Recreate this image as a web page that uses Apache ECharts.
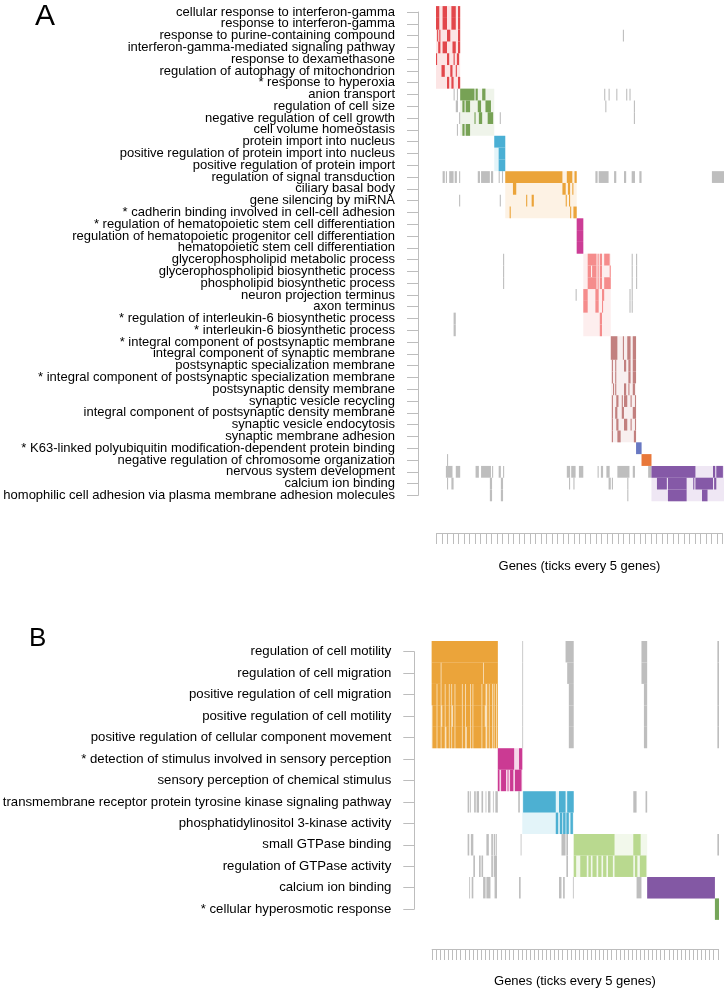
<!DOCTYPE html>
<html><head><meta charset="utf-8">
<script src="https://cdn.jsdelivr.net/npm/echarts@6/dist/echarts.min.js"></script>
<style>html,body{margin:0;padding:0;background:#fff}#c{width:726px;height:990px}</style>
</head><body><div id="c"></div>
<script>
// ================= Panel A data =================
const termsA = [
  "cellular response to interferon-gamma",
  "response to interferon-gamma",
  "response to purine-containing compound",
  "interferon-gamma-mediated signaling pathway",
  "response to dexamethasone",
  "regulation of autophagy of mitochondrion",
  "* response to hyperoxia",
  "anion transport",
  "regulation of cell size",
  "negative regulation of cell growth",
  "cell volume homeostasis",
  "protein import into nucleus",
  "positive regulation of protein import into nucleus",
  "positive regulation of protein import",
  "regulation of signal transduction",
  "ciliary basal body",
  "gene silencing by miRNA",
  "* cadherin binding involved in cell-cell adhesion",
  "* regulation of hematopoietic stem cell differentiation",
  "regulation of hematopoietic progenitor cell differentiation",
  "hematopoietic stem cell differentiation",
  "glycerophospholipid metabolic process",
  "glycerophospholipid biosynthetic process",
  "phospholipid biosynthetic process",
  "neuron projection terminus",
  "axon terminus",
  "* regulation of interleukin-6 biosynthetic process",
  "* interleukin-6 biosynthetic process",
  "* integral component of postsynaptic membrane",
  "integral component of synaptic membrane",
  "postsynaptic specialization membrane",
  "* integral component of postsynaptic specialization membrane",
  "postsynaptic density membrane",
  "synaptic vesicle recycling",
  "integral component of postsynaptic density membrane",
  "synaptic vesicle endocytosis",
  "synaptic membrane adhesion",
  "* K63-linked polyubiquitin modification-dependent protein binding",
  "negative regulation of chromosome organization",
  "nervous system development",
  "calcium ion binding",
  "homophilic cell adhesion via plasma membrane adhesion molecules"
];
const genesA = 262;
// cluster row ranges (first,last) and gene ranges [start,end)
const clusterRowsA = [[0,6],[7,10],[11,13],[14,17],[18,20],[21,27],[28,36],[37,37],[38,38],[39,41]];
const clusterGenesA = [[0,22],[22,53],[53,63],[63,128],[128,134],[134,159],[159,182],[182,187],[187,196],[196,262]];
// genes of each term inside its own cluster, per row
const memberA = [
  [[0,3],[6,10],[14,18],[20,22]],
  [[0,3],[6,10],[14,18],[20,22]],
  [[1,2],[3,4],[10,13],[20,22]],
  [[2,4],[6,10],[15,18],[20,22]],
  [[0,1],[10,12],[16,17],[19,21]],
  [[5,8],[13,15],[18,19]],
  [[10,12],[14,16],[20,22]],
  [[22,35],[36,38],[42,45]],
  [[24,26],[27,31],[38,41],[45,50]],
  [[35,36],[39,42],[47,52]],
  [[24,26],[27,31]],
  [[53,63]],
  [[57,63]],
  [[57,63]],
  [[63,115],[119,124],[126,128]],
  [[70,73],[115,118],[120,122],[124,125]],
  [[82,83],[87,89],[118,119],[121,122]],
  [[67,68],[122,123],[125,128]],
  [[128,134]],
  [[128,134]],
  [[128,134]],
  [[138,146],[147,148],[149,151],[153,158]],
  [[138,141],[142,146],[147,148],[149,151],[158,159]],
  [[138,146],[147,148],[149,151],[153,159]],
  [[134,138],[145,148],[151,153]],
  [[134,138],[145,148],[151,152]],
  [[149,151]],
  [[149,151]],
  [[159,165],[170,171],[174,177],[179,182]],
  [[159,165],[170,171],[174,177],[179,182]],
  [[160,161],[163,164],[171,173],[175,177],[179,182]],
  [[160,161],[163,164],[175,177],[179,182]],
  [[161,162],[163,164],[171,173],[175,176],[179,181]],
  [[160,161],[164,166],[169,170],[171,174],[177,178],[181,182]],
  [[160,161],[163,165],[169,171],[179,182]],
  [[160,161],[164,166],[171,174],[177,178],[181,182]],
  [[160,161],[165,168],[180,182]],
  [[182,187]],
  [[187,196]],
  [[196,236],[252,254],[255,261]],
  [[201,210],[211,228],[234,235],[236,252],[253,255]],
  [[211,228],[242,247]]
];
// genes of each term that belong to other clusters, per row
const otherA = [
  [],[],[[170,171]],[],[],[],[],
  [[16,17],[19,20],[153,154],[157,158],[164,165],[173,174],[176,177]],
  [[18,20],[154,155],[180,181]],
  [[21,22],[58,59],[180,181]],
  [[19,20]],
  [],[],[],
  [[6,8],[9,10],[12,16],[17,19],[21,22],[38,40],[41,49],[50,52],[57,58],[60,61],[145,147],[148,157],[162,164],[171,173],[178,181],[185,187],[251,262]],
  [],
  [[21,22],[58,59]],
  [],
  [],[],[],
  [[61,62],[178,179],[182,183]],
  [[61,62],[178,179],[182,183]],
  [[61,62],[178,179],[182,183]],
  [[127,128],[176,177],[178,179]],
  [[176,177],[178,179]],
  [[16,18]],
  [[16,18]],
  [],[],[],[],[],[],[],[],[],
  [],
  [[10,11]],
  [[9,15],[18,22],[36,39],[41,50],[51,52],[57,59],[61,62],[119,122],[123,127],[130,134],[147,148],[150,152],[155,158],[165,176],[179,181],[193,196]],
  [[10,11],[14,16],[49,51],[59,61],[121,122],[125,126],[157,159],[160,161],[174,175]],
  [[49,51],[59,61],[174,175]]
];

// ================= Panel B data =================
const termsB = [
  "regulation of cell motility",
  "regulation of cell migration",
  "positive regulation of cell migration",
  "positive regulation of cell motility",
  "positive regulation of cellular component movement",
  "* detection of stimulus involved in sensory perception",
  "sensory perception of chemical stimulus",
  "transmembrane receptor protein tyrosine kinase signaling pathway",
  "phosphatidylinositol 3-kinase activity",
  "small GTPase binding",
  "regulation of GTPase activity",
  "calcium ion binding",
  "* cellular hyperosmotic response"
];
const genesB = 352;
const clusterRowsB = [[0,4],[5,6],[7,8],[9,10],[11,11],[12,12]];
const clusterGenesB = [[0,81],[81,111],[111,174],[174,264],[264,347],[347,352]];
const memberB = [
  [[0,81]],
  [[0,11],[12,63],[64,81]],
  [[0,6],[7,11],[12,16],[17,21],[22,24],[25,28],[29,37],[38,41],[42,47],[48,50],[51,61],[62,66],[68,70],[71,74],[75,76],[77,79],[80,81]],
  [[1,6],[7,11],[13,16],[17,21],[22,24],[26,28],[29,37],[38,41],[42,47],[48,50],[51,61],[62,65],[68,70],[71,74],[75,76],[77,79],[80,81]],
  [[1,6],[7,11],[12,16],[18,21],[22,24],[25,28],[29,37],[38,41],[43,47],[48,50],[51,61],[62,66],[68,70],[71,74],[75,76],[77,79],[80,81]],
  [[81,101],[107,111]],
  [[81,83],[85,91],[93,94],[96,100],[102,110]],
  [[112,152],[156,164],[166,174]],
  [[152,155],[157,160],[161,164],[165,168],[170,173]],
  [[174,224],[247,256]],
  [[174,177],[182,190],[192,195],[197,202],[204,208],[210,214],[216,222],[224,247],[249,252],[255,263]],
  [[264,347]],
  [[347,352]]
];
const otherB = [
  [[111,112],[164,174],[257,264],[350,352]],
  [[111,112],[166,174],[257,264],[350,352]],
  [[111,112],[168,174],[260,264],[350,352]],
  [[111,112],[168,174],[260,264],[350,352]],
  [[111,112],[168,174],[260,264],[350,352]],
  [],
  [],
  [[44,46],[47,48],[52,54],[55,58],[61,63],[66,67],[69,72],[75,76],[78,81],[106,108],[247,251],[262,264]],
  [],
  [[44,46],[48,51],[67,70],[73,75],[76,78],[79,80],[109,110],[159,164],[165,167],[350,352]],
  [[51,53],[58,60],[61,63],[73,75],[76,80],[165,167]],
  [[46,47],[49,51],[63,66],[67,72],[77,80],[107,109],[156,159],[161,163],[173,174],[251,257]],
  []
];

// ================= styles =================
const paletteA = [
  ['#E2474B','#FCE5E5'],['#77A255','#EFF4EA'],['#4AAFD4','#E3F4F9'],['#EBA43A','#FDF2E4'],
  ['#CC3D96','#F8E0EE'],['#F58C8C','#FDEEEE'],['#C2807F','#F8EFEF'],['#6878C2','#E8EBF6'],
  ['#E8783A','#FCE9DE'],['#8559A7','#EFE7F4']
];
const paletteB = [
  ['#EBA43A','#F9E3C0'],['#CB3A93','#F6D7E9'],['#4DB0D2','#E3F4F9'],['#B9D98F','#F2F8EB'],
  ['#8358A4','#EFE7F4'],['#76A65A','#EAF3E4']
];
const GRAY = '#BEBEBE';
const FONT = 'Liberation Sans, Arial, sans-serif';

function clusterOfRow(rows, r) {
  for (let i = 0; i < rows.length; i++) if (r >= rows[i][0] && r <= rows[i][1]) return i;
  return -1;
}

function buildPanel(p) {
  const light = p.clusterRows.map((rr, i) => [p.clusterGenes[i][0], p.clusterGenes[i][1], rr[0], rr[1], i]);
  const gray = [], dark = [];
  p.other.forEach((segs, r) => segs.forEach(s => gray.push([s[0], s[1], r, r, -1])));
  p.member.forEach((segs, r) => {
    const c = clusterOfRow(p.clusterRows, r);
    segs.forEach(s => dark.push([s[0], s[1], r, r, c]));
  });
  return {light, gray, dark};
}

function makeRender(palette, mode) {
  return function (params, api) {
    const g0 = api.value(0), g1 = api.value(1), r0 = api.value(2), r1 = api.value(3), c = api.value(4);
    const a = api.coord([g0, r0 - 0.5]);
    const b = api.coord([g1, r1 + 0.5]);
    let fill = GRAY;
    if (mode === 'light') fill = palette[c][1];
    else if (mode === 'dark') fill = palette[c][0];
    return {
      type: 'rect',
      shape: {x: a[0], y: Math.min(a[1], b[1]), width: Math.max(b[0] - a[0], 0.5), height: Math.abs(b[1] - a[1])},
      style: {fill: fill}
    };
  };
}

const panels = [
  {terms: termsA, genes: genesA, clusterRows: clusterRowsA, clusterGenes: clusterGenesA, member: memberA, other: otherA,
   palette: paletteA, left: 436, top: 6.1, width: 288, rowH: 11.79, axisX: 418, xAxisY: 533, nameGap: 27, fs: 13},
  {terms: termsB, genes: genesB, clusterRows: clusterRowsB, clusterGenes: clusterGenesB, member: memberB, other: otherB,
   palette: paletteB, left: 431.7, top: 641, width: 287.3, rowH: 21.45, axisX: 413.3, xAxisY: 949, nameGap: 26, fs: 13.2}
];

const grid = [], xAxis = [], yAxis = [], series = [];
panels.forEach((p, k) => {
  const n = p.terms.length;
  const gw = p.width / p.genes;
  const base = grid.length;
  // data grid
  grid.push({left: p.left, top: p.top, width: p.width, height: n * p.rowH});
  xAxis.push({gridIndex: base, type: 'value', min: 0, max: p.genes, show: false});
  yAxis.push({gridIndex: base, type: 'value', min: -0.5, max: n - 0.5, inverse: true, show: false});
  // term axis grid
  grid.push({left: p.axisX, top: p.top + p.rowH / 2, width: 1, height: (n - 1) * p.rowH});
  xAxis.push({gridIndex: base + 1, type: 'value', show: false});
  yAxis.push({gridIndex: base + 1, type: 'category', data: p.terms, inverse: true, boundaryGap: false,
    axisLine: {show: true, lineStyle: {color: '#BDBDBD', width: 1}},
    axisTick: {show: true, length: 11, alignWithLabel: true, lineStyle: {color: '#BDBDBD', width: 1}},
    axisLabel: {margin: 23, fontSize: p.fs, color: '#000', fontFamily: FONT, interval: 0},
    splitLine: {show: false}});
  // gene axis grid
  const lastTick = Math.floor((p.genes - 1) / 5) * 5;
  grid.push({left: p.left + gw * 0.5, top: p.xAxisY - 10, width: lastTick * gw, height: 10});
  xAxis.push({gridIndex: base + 2, type: 'value', min: 0, max: lastTick, interval: 5, position: 'bottom',
    axisLine: {show: true, lineStyle: {color: '#BDBDBD', width: 1}},
    axisTick: {show: true, length: 11, lineStyle: {color: '#BDBDBD', width: 1}},
    axisLabel: {show: false}, splitLine: {show: false},
    name: 'Genes (ticks every 5 genes)', nameLocation: 'middle', nameGap: p.nameGap,
    nameTextStyle: {fontSize: 13, color: '#000', fontFamily: FONT}});
  yAxis.push({gridIndex: base + 2, type: 'value', show: false});

  const d = buildPanel(p);
  ['light', 'gray', 'dark'].forEach(mode => {
    series.push({type: 'custom', xAxisIndex: base, yAxisIndex: base, renderItem: makeRender(p.palette, mode),
      encode: {x: [0, 1], y: [2, 3]}, data: d[mode], silent: true, animation: false});
  });
});

const chart = echarts.init(document.getElementById('c'), null, {renderer: 'canvas'});
chart.setOption({
  backgroundColor: '#fff',
  animation: false,
  title: [
    {text: 'A', left: 30, top: -3, textStyle: {fontSize: 30, fontWeight: 'normal', color: '#000', fontFamily: FONT}},
    {text: 'B', left: 24, top: 621, textStyle: {fontSize: 26, fontWeight: 'normal', color: '#000', fontFamily: FONT}}
  ],
  grid, xAxis, yAxis, series
});
</script></body></html>
